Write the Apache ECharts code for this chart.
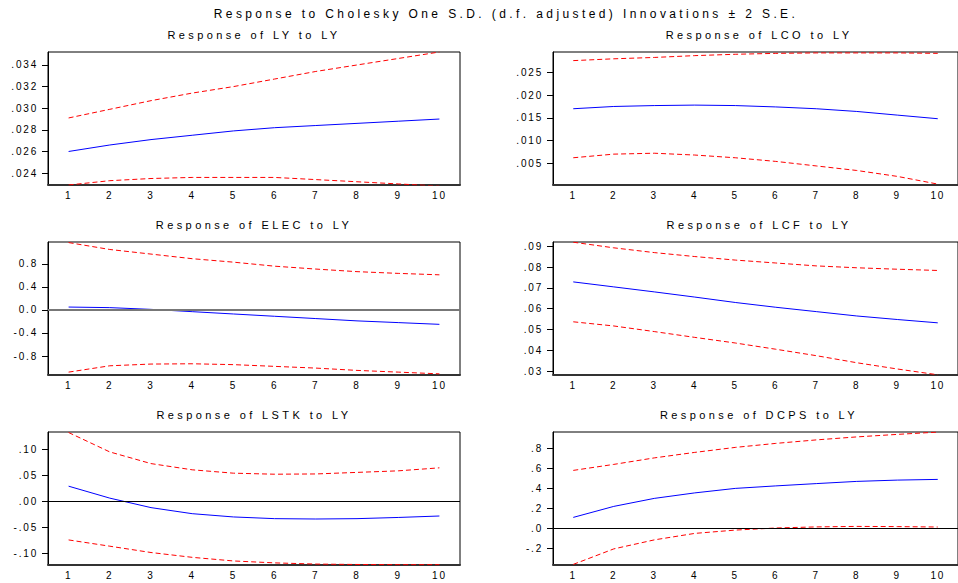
<!DOCTYPE html>
<html>
<head>
<meta charset="utf-8">
<title>Response to Cholesky One S.D. Innovations</title>
<script src="https://cdn.jsdelivr.net/npm/echarts@6/dist/echarts.min.js"></script>
<style>
  html, body { margin: 0; padding: 0; background: #fff; }
  #main { width: 958px; height: 583px; }
  /* EViews draws its text with wide letter spacing */
  #main text { letter-spacing: 3.4px; }
  #main text[style*="10px"] { letter-spacing: 1.8px; }
</style>
</head>
<body>
<div id="main"></div>
<script>
const periods = ['1', '2', '3', '4', '5', '6', '7', '8', '9', '10'];

// response of LY to LY
const lyResp  = [0.0260, 0.0266, 0.0271, 0.0275, 0.0279, 0.0282, 0.0284, 0.0286, 0.0288, 0.0290];
const lyUpper = [0.0291, 0.0299, 0.0307, 0.0314, 0.0320, 0.0327, 0.0334, 0.0340, 0.0346, 0.0352];
const lyLower = [0.0229, 0.0233, 0.0235, 0.0236, 0.0236, 0.0236, 0.0234, 0.0232, 0.0230, 0.0228];

// response of LCO to LY
const lcoResp  = [0.0170, 0.0175, 0.0177, 0.0178, 0.0177, 0.0174, 0.0170, 0.0164, 0.0156, 0.0148];
const lcoUpper = [0.0276, 0.0280, 0.0283, 0.0287, 0.0290, 0.0292, 0.0293, 0.0293, 0.0293, 0.0292];
const lcoLower = [0.0062, 0.0070, 0.0072, 0.0068, 0.0062, 0.0054, 0.0044, 0.0034, 0.0021, 0.0004];

// response of ELEC to LY
const elecResp  = [0.05, 0.04, 0.01, -0.03, -0.07, -0.11, -0.15, -0.19, -0.22, -0.25];
const elecUpper = [1.17, 1.05, 0.97, 0.89, 0.83, 0.76, 0.71, 0.665, 0.635, 0.61];
const elecLower = [-1.08, -0.97, -0.94, -0.935, -0.95, -0.98, -1.01, -1.05, -1.08, -1.11];

// response of LCF to LY
const lcfResp  = [0.0729, 0.0705, 0.0681, 0.0656, 0.0630, 0.0607, 0.0586, 0.0565, 0.0548, 0.0532];
const lcfUpper = [0.0920, 0.0893, 0.0870, 0.0851, 0.0834, 0.0820, 0.0806, 0.0797, 0.0790, 0.0784];
const lcfLower = [0.0537, 0.0517, 0.0490, 0.0462, 0.0435, 0.0405, 0.0374, 0.0340, 0.0310, 0.0282];

// response of LSTK to LY
const lstkResp  = [0.0294, 0.0063, -0.0120, -0.0237, -0.0300, -0.0333, -0.0340, -0.0333, -0.0310, -0.0282];
const lstkUpper = [0.1330, 0.0955, 0.0730, 0.0610, 0.0545, 0.0525, 0.0530, 0.0560, 0.0590, 0.0648];
const lstkLower = [-0.0744, -0.0865, -0.0987, -0.1080, -0.1150, -0.1187, -0.1210, -0.1218, -0.1222, -0.1222];

// response of DCPS to LY
const dcpsResp  = [0.11, 0.22, 0.30, 0.355, 0.40, 0.425, 0.448, 0.47, 0.483, 0.49];
const dcpsUpper = [0.58, 0.64, 0.705, 0.76, 0.81, 0.85, 0.885, 0.915, 0.94, 0.963];
const dcpsLower = [-0.36, -0.205, -0.115, -0.05, -0.017, 0.004, 0.015, 0.02, 0.018, 0.014];

const panels = [
  { title: 'Response of LY to LY',   resp: lyResp,   upper: lyUpper,   lower: lyLower,   min: 0.0229, max: 0.0352, step: 0.002, digits: 3, lead: false, zero: false },
  { title: 'Response of LCO to LY',  resp: lcoResp,  upper: lcoUpper,  lower: lcoLower,  min: 0.0002, max: 0.0295, step: 0.005, digits: 3, lead: false, zero: false },
  { title: 'Response of ELEC to LY', resp: elecResp, upper: elecUpper, lower: elecLower, min: -1.13,  max: 1.18,   step: 0.4,   digits: 1, lead: true,  zero: true, zeroColor: '#777', zeroWidth: 2 },
  { title: 'Response of LCF to LY',  resp: lcfResp,  upper: lcfUpper,  lower: lcfLower,  min: 0.0281, max: 0.0921, step: 0.01,  digits: 2, lead: false, zero: false },
  { title: 'Response of LSTK to LY', resp: lstkResp, upper: lstkUpper, lower: lstkLower, min: -0.1228, max: 0.134, step: 0.05,  digits: 2, lead: false, zero: true },
  { title: 'Response of DCPS to LY', resp: dcpsResp, upper: dcpsUpper, lower: dcpsLower, min: -0.366, max: 0.964,  step: 0.2,   digits: 1, lead: false, zero: true }
];

const cols = [48, 553];
const rows = [52, 242, 432];
const plotW = 412;
const plotH = 133;
const font = '"Liberation Sans", Arial, sans-serif';

function fmt(p) {
  return function (v) {
    let s = Math.abs(v) < 1e-9 ? (0).toFixed(p.digits) : v.toFixed(p.digits);
    if (!p.lead) s = s.replace(/^(-?)0\./, '$1.');
    return s;
  };
}

let grid = [], xAxis = [], yAxis = [], series = [];
let graphic = [{
  type: 'text', x: 506, y: 14,
  style: { text: 'Response to Cholesky One S.D. (d.f. adjusted) Innovations \u00b1 2 S.E.', fill: '#000',
           font: '12px ' + font, align: 'center', verticalAlign: 'middle', textAlign: 'center', textVerticalAlign: 'middle' }
}];

panels.forEach(function (p, i) {
  const left = cols[i % 2];
  const top = rows[Math.floor(i / 2)];
  grid.push({ left: left, top: top, width: plotW, height: plotH, show: true, borderColor: '#000', borderWidth: 1 });
  graphic.push({
    type: 'text', x: left + plotW / 2, y: top - 17,
    style: { text: p.title, fill: '#000', font: '11px ' + font,
             align: 'center', verticalAlign: 'middle', textAlign: 'center', textVerticalAlign: 'middle' }
  });
  xAxis.push({
    gridIndex: i, type: 'category', data: periods, boundaryGap: true,
    axisLine: { onZero: false, lineStyle: { color: '#333', width: 2 } },
    axisTick: { interval: 0, length: 4, lineStyle: { color: '#333' } },
    axisLabel: { interval: 0, margin: 5, fontSize: 10, color: '#000', fontFamily: font },
    splitLine: { show: false }
  });
  yAxis.push({
    gridIndex: i, type: 'value', min: p.min, max: p.max,
    minInterval: p.step, maxInterval: p.step,
    axisLine: { show: true, lineStyle: { color: '#000', width: 1 } },
    axisTick: { show: true, length: 6, lineStyle: { color: '#000' } },
    axisLabel: { margin: 10, fontSize: 10, color: '#000', fontFamily: font,
                 showMinLabel: false, showMaxLabel: false, formatter: fmt(p) },
    splitLine: { show: false }
  });
  const dashed = { color: '#ff0000', width: 1, type: [5, 3] };
  series.push({ type: 'line', xAxisIndex: i, yAxisIndex: i, data: p.upper, symbol: 'none', lineStyle: dashed, silent: true });
  series.push({ type: 'line', xAxisIndex: i, yAxisIndex: i, data: p.lower, symbol: 'none', lineStyle: dashed, silent: true });
  const resp = { type: 'line', xAxisIndex: i, yAxisIndex: i, data: p.resp, symbol: 'none',
                 lineStyle: { color: '#0000ff', width: 1 }, silent: true, z: 3 };
  if (p.zero) {
    resp.markLine = {
      silent: true, symbol: 'none', label: { show: false },
      lineStyle: { color: p.zeroColor || '#000', width: p.zeroWidth || 1, type: 'solid' },
      data: [{ yAxis: 0 }]
    };
  }
  series.push(resp);
});

const chart = echarts.init(document.getElementById('main'), null, { renderer: 'svg' });
chart.setOption({
  animation: false,
  backgroundColor: '#fff',
  grid: grid,
  xAxis: xAxis,
  yAxis: yAxis,
  series: series,
  graphic: graphic
});
</script>
</body>
</html>
